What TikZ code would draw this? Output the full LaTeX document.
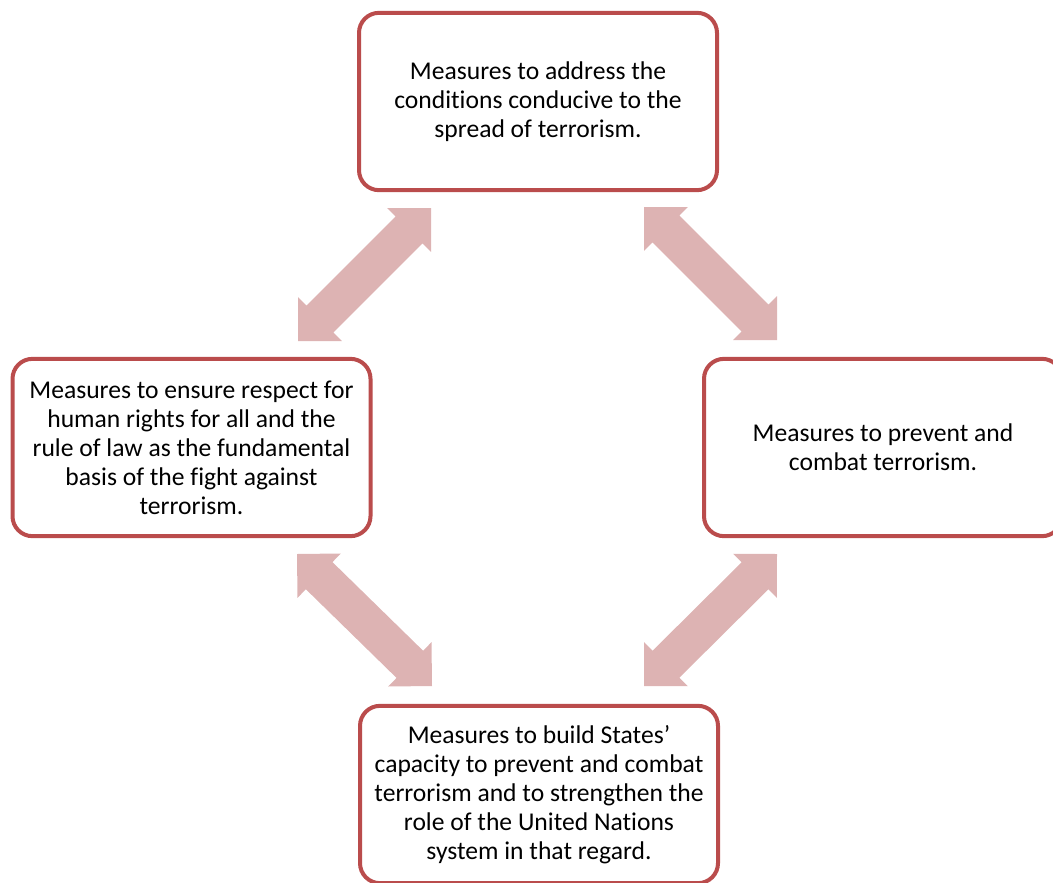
\documentclass[tikz,border=0pt]{standalone}
\usepackage{fontspec}
\setmainfont{Carlito}[Ligatures={NoCommon,NoContextual}]
\usetikzlibrary{calc}
\definecolor{boxred}{RGB}{186,76,76}
\definecolor{arrpink}{RGB}{221,179,179}
\newcommand\blockarrow[2]{%
  \fill[arrpink] (#1)
    -- ($(#1)!23.25pt!(#2)!23.25pt!90:(#2)$)
    -- ($(#1)!23.25pt!(#2)!14.25pt!90:(#2)$)
    -- ($(#2)!23.25pt!(#1)!14.25pt!-90:(#1)$)
    -- ($(#2)!23.25pt!(#1)!23.25pt!-90:(#1)$)
    -- (#2)
    -- ($(#2)!23.25pt!(#1)!23.25pt!90:(#1)$)
    -- ($(#2)!23.25pt!(#1)!14.25pt!90:(#1)$)
    -- ($(#1)!23.25pt!(#2)!14.25pt!-90:(#2)$)
    -- ($(#1)!23.25pt!(#2)!23.25pt!-90:(#2)$)
    -- cycle;}
\begin{document}
\begin{tikzpicture}[x=0.75pt,y=-0.75pt,
  measure/.style={draw=boxred, line width=3pt, rounded corners=15pt, fill=white,
    minimum width=268.5pt, minimum height=133pt, align=center, inner sep=0pt,
    font=\fontsize{19.2}{21.75}\selectfont}]
\useasboundingbox (0,0) rectangle (1053,882);
\node[measure] (top) at (538,101.5) {Measures to address the\\conditions conducive to the\\spread of terrorism.};
\node[measure] (left) at (191.5,447.5) {Measures to ensure respect for\\human rights for all and the\\rule of law as the fundamental\\basis of the fight against\\terrorism.};
\node[measure] (right) at (883,447.5) {Measures to prevent and\\combat terrorism.};
\node[measure] (bottom) at (539,794.5) {Measures to build States'\\capacity to prevent and combat\\terrorism and to strengthen the\\role of the United Nations\\system in that regard.};
\coordinate (tl1) at (298,341);
\coordinate (tl2) at (431,208);
\coordinate (tr1) at (644,207);
\coordinate (tr2) at (777,340);
\coordinate (bl1) at (297,554);
\coordinate (bl2) at (432,686);
\coordinate (br1) at (644,686);
\coordinate (br2) at (777,554);
\blockarrow{tl1}{tl2}
\blockarrow{tr1}{tr2}
\blockarrow{bl1}{bl2}
\blockarrow{br1}{br2}
\end{tikzpicture}
\end{document}
